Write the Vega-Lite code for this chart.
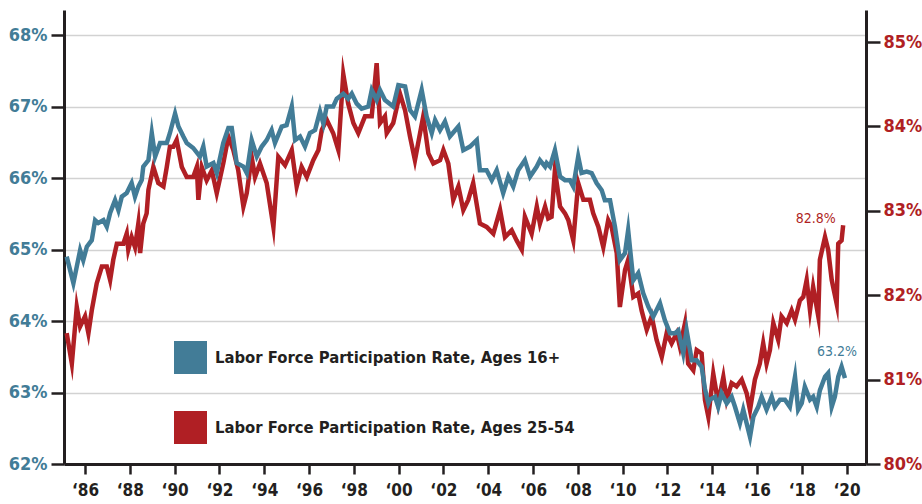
{
  "$schema": "https://vega.github.io/schema/vega-lite/v6.json",
  "width": 802,
  "height": 454,
  "autosize": {"type": "none"},
  "padding": {"left": 64, "top": 10, "right": 56, "bottom": 40},
  "background": "white",
  "config": {
    "view": {"stroke": null},
    "font": "DejaVu Sans Condensed, sans-serif",
    "axis": {
      "labelFont": "DejaVu Sans Condensed, sans-serif",
      "labelFontWeight": "bold",
      "labelFontSize": 18,
      "domainColor": "#231f20",
      "domainWidth": 3,
      "tickColor": "#231f20",
      "tickWidth": 2.5,
      "title": null
    }
  },
  "datasets": {
    "lf16": [
      {"t":1985.18,"v":64.90},{"t":1985.48,"v":64.53},{"t":1985.63,"v":64.76},{"t":1985.78,"v":64.99},{"t":1985.92,"v":64.85},
      {"t":1986.08,"v":65.04},{"t":1986.30,"v":65.13},{"t":1986.45,"v":65.41},{"t":1986.59,"v":65.37},{"t":1986.82,"v":65.41},{"t":1986.97,"v":65.32},
      {"t":1987.12,"v":65.51},{"t":1987.34,"v":65.69},{"t":1987.49,"v":65.55},{"t":1987.64,"v":65.74},{"t":1987.86,"v":65.79},
      {"t":1988.08,"v":65.93},{"t":1988.23,"v":65.74},{"t":1988.38,"v":65.88},{"t":1988.53,"v":65.97},{"t":1988.60,"v":66.16},{"t":1988.83,"v":66.25},{"t":1988.98,"v":66.63},
      {"t":1989.13,"v":66.30},{"t":1989.35,"v":66.49},{"t":1989.65,"v":66.49},{"t":1989.79,"v":66.63},
      {"t":1990.02,"v":66.90},{"t":1990.17,"v":66.72},{"t":1990.39,"v":66.58},{"t":1990.54,"v":66.49},{"t":1990.83,"v":66.42},
      {"t":1991.13,"v":66.30},{"t":1991.28,"v":66.44},{"t":1991.43,"v":66.16},{"t":1991.73,"v":66.21},{"t":1991.88,"v":66.07},
      {"t":1992.17,"v":66.49},{"t":1992.40,"v":66.70},{"t":1992.55,"v":66.70},{"t":1992.77,"v":66.21},
      {"t":1993.07,"v":66.16},{"t":1993.22,"v":66.07},{"t":1993.44,"v":66.53},{"t":1993.67,"v":66.30},{"t":1993.89,"v":66.44},
      {"t":1994.11,"v":66.53},{"t":1994.33,"v":66.67},{"t":1994.48,"v":66.49},{"t":1994.78,"v":66.72},
      {"t":1995.00,"v":66.74},{"t":1995.23,"v":67.00},{"t":1995.38,"v":66.53},{"t":1995.60,"v":66.58},{"t":1995.82,"v":66.44},
      {"t":1996.04,"v":66.63},{"t":1996.27,"v":66.67},{"t":1996.49,"v":66.93},{"t":1996.64,"v":66.76},{"t":1996.79,"v":67.00},
      {"t":1997.08,"v":67.00},{"t":1997.24,"v":67.11},{"t":1997.53,"v":67.18},{"t":1997.75,"v":67.11},{"t":1997.91,"v":67.18},
      {"t":1998.13,"v":67.04},{"t":1998.35,"v":66.97},{"t":1998.65,"v":67.00},{"t":1998.80,"v":67.23},
      {"t":1999.02,"v":67.09},{"t":1999.17,"v":67.23},{"t":1999.39,"v":67.09},{"t":1999.76,"v":67.00},{"t":1999.99,"v":67.30},
      {"t":2000.29,"v":67.28},{"t":2000.51,"v":66.95},{"t":2000.73,"v":66.86},
      {"t":2001.03,"v":67.23},{"t":2001.25,"v":66.86},{"t":2001.48,"v":66.63},{"t":2001.63,"v":66.81},{"t":2001.85,"v":66.67},
      {"t":2002.07,"v":66.79},{"t":2002.29,"v":66.58},{"t":2002.67,"v":66.72},{"t":2002.89,"v":66.39},
      {"t":2003.19,"v":66.44},{"t":2003.49,"v":66.53},{"t":2003.63,"v":66.11},{"t":2003.93,"v":66.11},
      {"t":2004.16,"v":65.97},{"t":2004.38,"v":66.11},{"t":2004.67,"v":65.79},{"t":2004.90,"v":66.02},
      {"t":2005.12,"v":65.88},{"t":2005.34,"v":66.11},{"t":2005.64,"v":66.25},{"t":2005.87,"v":66.02},
      {"t":2006.17,"v":66.16},{"t":2006.31,"v":66.25},{"t":2006.54,"v":66.16},{"t":2006.61,"v":66.21},{"t":2006.76,"v":66.16},{"t":2006.98,"v":66.39},
      {"t":2007.21,"v":66.02},{"t":2007.43,"v":65.97},{"t":2007.65,"v":65.97},{"t":2007.80,"v":65.88},
      {"t":2008.02,"v":66.30},{"t":2008.17,"v":66.07},{"t":2008.40,"v":66.09},{"t":2008.62,"v":66.07},{"t":2008.84,"v":65.93},
      {"t":2009.07,"v":65.83},{"t":2009.21,"v":65.69},{"t":2009.44,"v":65.69},{"t":2009.66,"v":65.32},{"t":2009.88,"v":64.85},
      {"t":2010.11,"v":64.95},{"t":2010.25,"v":65.27},{"t":2010.48,"v":64.57},{"t":2010.70,"v":64.67},{"t":2010.92,"v":64.39},
      {"t":2011.15,"v":64.20},{"t":2011.37,"v":64.06},{"t":2011.67,"v":64.25},{"t":2011.89,"v":64.01},
      {"t":2012.12,"v":63.83},{"t":2012.34,"v":63.83},{"t":2012.49,"v":63.87},{"t":2012.71,"v":63.55},{"t":2012.86,"v":63.87},
      {"t":2013.09,"v":63.45},{"t":2013.31,"v":63.45},{"t":2013.53,"v":63.36},{"t":2013.68,"v":63.05},{"t":2013.83,"v":62.85},{"t":2013.90,"v":62.90},
      {"t":2014.13,"v":62.94},{"t":2014.27,"v":62.80},{"t":2014.42,"v":62.99},{"t":2014.65,"v":62.85},{"t":2014.87,"v":62.94},
      {"t":2015.02,"v":62.80},{"t":2015.24,"v":62.57},{"t":2015.39,"v":62.76},{"t":2015.69,"v":62.38},{"t":2015.84,"v":62.66},
      {"t":2016.06,"v":62.80},{"t":2016.21,"v":62.94},{"t":2016.43,"v":62.76},{"t":2016.66,"v":62.94},{"t":2016.80,"v":62.80},
      {"t":2017.03,"v":62.90},{"t":2017.25,"v":62.90},{"t":2017.47,"v":62.80},{"t":2017.70,"v":63.22},{"t":2017.84,"v":62.76},
      {"t":2018.00,"v":62.85},{"t":2018.14,"v":63.08},{"t":2018.37,"v":62.90},{"t":2018.51,"v":62.94},{"t":2018.67,"v":62.80},{"t":2018.81,"v":63.03},
      {"t":2019.04,"v":63.22},{"t":2019.18,"v":63.27},{"t":2019.34,"v":62.80},{"t":2019.48,"v":62.94},{"t":2019.63,"v":63.22},{"t":2019.78,"v":63.36},{"t":2019.93,"v":63.20}
    ],
    "lf2554": [
      {"t":1985.18,"v":81.55},{"t":1985.41,"v":81.19},{"t":1985.63,"v":81.86},{"t":1985.78,"v":81.63},
      {"t":1986.00,"v":81.75},{"t":1986.15,"v":81.55},{"t":1986.30,"v":81.82},{"t":1986.52,"v":82.14},{"t":1986.75,"v":82.34},{"t":1986.97,"v":82.34},
      {"t":1987.12,"v":82.18},{"t":1987.26,"v":82.42},{"t":1987.42,"v":82.61},{"t":1987.71,"v":82.61},{"t":1987.86,"v":82.73},{"t":1987.93,"v":82.54},
      {"t":1988.08,"v":82.69},{"t":1988.23,"v":82.57},{"t":1988.38,"v":82.85},{"t":1988.46,"v":82.50},{"t":1988.60,"v":82.85},{"t":1988.75,"v":82.97},{"t":1988.83,"v":83.25},
      {"t":1989.05,"v":83.52},{"t":1989.27,"v":83.33},{"t":1989.50,"v":83.29},{"t":1989.65,"v":83.52},{"t":1989.79,"v":83.76},{"t":1989.94,"v":83.76},
      {"t":1990.09,"v":83.84},{"t":1990.32,"v":83.52},{"t":1990.54,"v":83.40},{"t":1990.83,"v":83.40},{"t":1990.99,"v":83.52},
      {"t":1991.06,"v":83.13},{"t":1991.21,"v":83.52},{"t":1991.43,"v":83.36},{"t":1991.66,"v":83.48},{"t":1991.88,"v":83.21},
      {"t":1992.17,"v":83.56},{"t":1992.40,"v":83.88},{"t":1992.62,"v":83.72},{"t":1992.84,"v":83.48},
      {"t":1993.07,"v":83.05},{"t":1993.22,"v":83.21},{"t":1993.44,"v":83.64},{"t":1993.59,"v":83.40},{"t":1993.81,"v":83.56},
      {"t":1994.11,"v":83.33},{"t":1994.41,"v":82.81},{"t":1994.63,"v":83.64},{"t":1994.93,"v":83.54},
      {"t":1995.23,"v":83.72},{"t":1995.45,"v":83.29},{"t":1995.67,"v":83.52},{"t":1995.90,"v":83.40},
      {"t":1996.19,"v":83.60},{"t":1996.42,"v":83.72},{"t":1996.57,"v":83.96},{"t":1996.79,"v":84.08},
      {"t":1997.08,"v":83.92},{"t":1997.31,"v":83.72},{"t":1997.53,"v":84.62},{"t":1997.75,"v":84.27},{"t":1997.98,"v":84.04},
      {"t":1998.20,"v":83.92},{"t":1998.50,"v":84.12},{"t":1998.80,"v":84.12},
      {"t":1999.02,"v":84.75},{"t":1999.17,"v":84.04},{"t":1999.39,"v":84.12},{"t":1999.47,"v":83.92},{"t":1999.76,"v":84.04},
      {"t":2000.06,"v":84.39},{"t":2000.29,"v":84.19},{"t":2000.51,"v":83.88},{"t":2000.73,"v":83.60},
      {"t":2001.10,"v":84.12},{"t":2001.33,"v":83.68},{"t":2001.55,"v":83.56},{"t":2001.85,"v":83.60},
      {"t":2002.00,"v":83.72},{"t":2002.22,"v":83.56},{"t":2002.44,"v":83.13},{"t":2002.67,"v":83.29},{"t":2002.89,"v":83.01},
      {"t":2003.11,"v":83.13},{"t":2003.33,"v":83.33},{"t":2003.63,"v":82.85},{"t":2003.93,"v":82.81},
      {"t":2004.23,"v":82.73},{"t":2004.53,"v":83.01},{"t":2004.75,"v":82.69},
      {"t":2005.05,"v":82.77},{"t":2005.27,"v":82.65},{"t":2005.50,"v":82.54},{"t":2005.64,"v":82.93},{"t":2005.94,"v":82.73},
      {"t":2006.17,"v":83.05},{"t":2006.31,"v":82.85},{"t":2006.54,"v":83.05},{"t":2006.68,"v":82.91},{"t":2006.83,"v":82.93},{"t":2006.98,"v":83.48},
      {"t":2007.21,"v":83.05},{"t":2007.43,"v":82.97},{"t":2007.58,"v":82.89},{"t":2007.80,"v":82.65},
      {"t":2008.02,"v":83.33},{"t":2008.25,"v":83.13},{"t":2008.54,"v":83.13},{"t":2008.69,"v":82.97},{"t":2008.92,"v":82.81},
      {"t":2009.14,"v":82.57},{"t":2009.36,"v":82.89},{"t":2009.51,"v":82.81},{"t":2009.74,"v":82.50},{"t":2009.88,"v":81.86},
      {"t":2010.11,"v":82.30},{"t":2010.25,"v":82.42},{"t":2010.48,"v":81.98},{"t":2010.70,"v":82.02},{"t":2010.85,"v":81.82},
      {"t":2011.08,"v":81.59},{"t":2011.30,"v":81.75},{"t":2011.52,"v":81.47},{"t":2011.75,"v":81.27},{"t":2011.97,"v":81.55},
      {"t":2012.19,"v":81.43},{"t":2012.42,"v":81.55},{"t":2012.56,"v":81.39},{"t":2012.79,"v":81.67},{"t":2012.93,"v":81.19},
      {"t":2013.16,"v":81.11},{"t":2013.31,"v":81.35},{"t":2013.53,"v":81.31},{"t":2013.68,"v":80.76},{"t":2013.83,"v":80.56},
      {"t":2014.05,"v":81.07},{"t":2014.27,"v":80.72},{"t":2014.50,"v":81.03},{"t":2014.65,"v":80.76},{"t":2014.87,"v":80.96},
      {"t":2015.09,"v":80.92},{"t":2015.32,"v":81.00},{"t":2015.54,"v":80.84},{"t":2015.69,"v":80.64},{"t":2015.91,"v":81.00},
      {"t":2016.13,"v":81.19},{"t":2016.28,"v":81.43},{"t":2016.43,"v":81.19},{"t":2016.58,"v":81.35},{"t":2016.73,"v":81.67},{"t":2016.95,"v":81.47},
      {"t":2017.10,"v":81.75},{"t":2017.33,"v":81.67},{"t":2017.55,"v":81.82},{"t":2017.70,"v":81.71},{"t":2017.92,"v":81.94},
      {"t":2018.07,"v":81.98},{"t":2018.22,"v":82.18},{"t":2018.37,"v":81.82},{"t":2018.51,"v":82.10},{"t":2018.74,"v":81.75},{"t":2018.81,"v":82.42},
      {"t":2019.04,"v":82.69},{"t":2019.18,"v":82.54},{"t":2019.34,"v":82.18},{"t":2019.56,"v":81.90},{"t":2019.63,"v":82.61},{"t":2019.78,"v":82.65},{"t":2019.85,"v":82.83}
    ]
  },
  "encoding": {
    "x": {
      "field": "t",
      "type": "quantitative",
      "scale": {"domain": [1985.06, 2020.87], "nice": false, "zero": false},
      "axis": {
        "values": [1986,1988,1990,1992,1994,1996,1998,2000,2002,2004,2006,2008,2010,2012,2014,2016,2018,2020],
        "labelExpr": "'\u2018' + slice(toString(datum.value), 2)",
        "labelColor": "#231f20",
        "labelFontSize": 17,
        "grid": false,
        "tickSize": 10,
        "labelPadding": 8,
        "labelFlush": false,
        "labelOverlap": false
      }
    }
  },
  "layer": [
    {
      "encoding": {
        "y": {
          "field": "v",
          "type": "quantitative",
          "scale": {"domain": [80, 85.38], "nice": false, "zero": false},
          "axis": {
            "orient": "right",
            "values": [80,81,82,83,84,85],
            "labelExpr": "datum.value + '%'",
            "labelColor": "#b01f24",
            "grid": false,
            "tickSize": 14,
            "labelPadding": 3
          }
        }
      },
      "layer": [
        {
          "data": {"name": "lf2554"},
          "mark": {"type": "line", "strokeWidth": 4.5, "strokeJoin": "miter", "strokeMiterLimit": 10},
          "encoding": {
            "color": {
              "datum": "Labor Force Participation Rate, Ages 25-54",
              "type": "nominal",
              "scale": {
                "domain": ["Labor Force Participation Rate, Ages 16+", "Labor Force Participation Rate, Ages 25-54"],
                "range": ["#427c97", "#b01f24"]
              },
              "legend": {
                "orient": "none",
                "legendX": 110,
                "legendY": 331,
                "title": null,
                "symbolType": "square",
                "symbolSize": 1089,
                "symbolStrokeWidth": 0,
                "symbolOpacity": 1,
                "labelFont": "DejaVu Sans Condensed, sans-serif",
                "labelFontWeight": "bold",
                "labelFontSize": 16.5,
                "labelColor": "#231f20",
                "labelLimit": 500,
                "labelOffset": 8,
                "rowPadding": 37,
                "encode": {
                  "symbols": {"update": {"fill": {"scale": "color", "field": "value"}, "stroke": {"value": "transparent"}, "fillOpacity": {"value": 1}}}
                }
              }
            }
          }
        },
        {
          "data": {"values": [{"t": 2018.63, "v": 82.9, "label": "82.8%"}]},
          "mark": {"type": "text", "color": "#b01f24", "fontSize": 14, "font": "DejaVu Sans Condensed, sans-serif", "align": "center", "baseline": "middle"},
          "encoding": {"text": {"field": "label"}}
        }
      ]
    },
    {
      "encoding": {
        "y": {
          "field": "v",
          "type": "quantitative",
          "scale": {"domain": [62, 68.35], "nice": false, "zero": false},
          "axis": {
            "orient": "left",
            "values": [62,63,64,65,66,67,68],
            "labelExpr": "datum.value + '%'",
            "labelColor": "#427c97",
            "grid": true,
            "gridColor": "#d2d2d2",
            "gridWidth": 1.5,
            "tickSize": 13,
            "labelPadding": 4
          }
        }
      },
      "layer": [
        {
          "data": {"name": "lf16"},
          "mark": {"type": "line", "strokeWidth": 4.5, "strokeJoin": "miter", "strokeMiterLimit": 10},
          "encoding": {
            "color": {"datum": "Labor Force Participation Rate, Ages 16+", "type": "nominal"}
          }
        },
        {
          "data": {"values": [{"t": 2019.57, "v": 63.57, "label": "63.2%"}]},
          "mark": {"type": "text", "color": "#427c97", "fontSize": 14, "font": "DejaVu Sans Condensed, sans-serif", "align": "center", "baseline": "middle"},
          "encoding": {"text": {"field": "label"}}
        }
      ]
    }
  ],
  "resolve": {"scale": {"y": "independent"}, "axis": {"y": "independent"}}
}
